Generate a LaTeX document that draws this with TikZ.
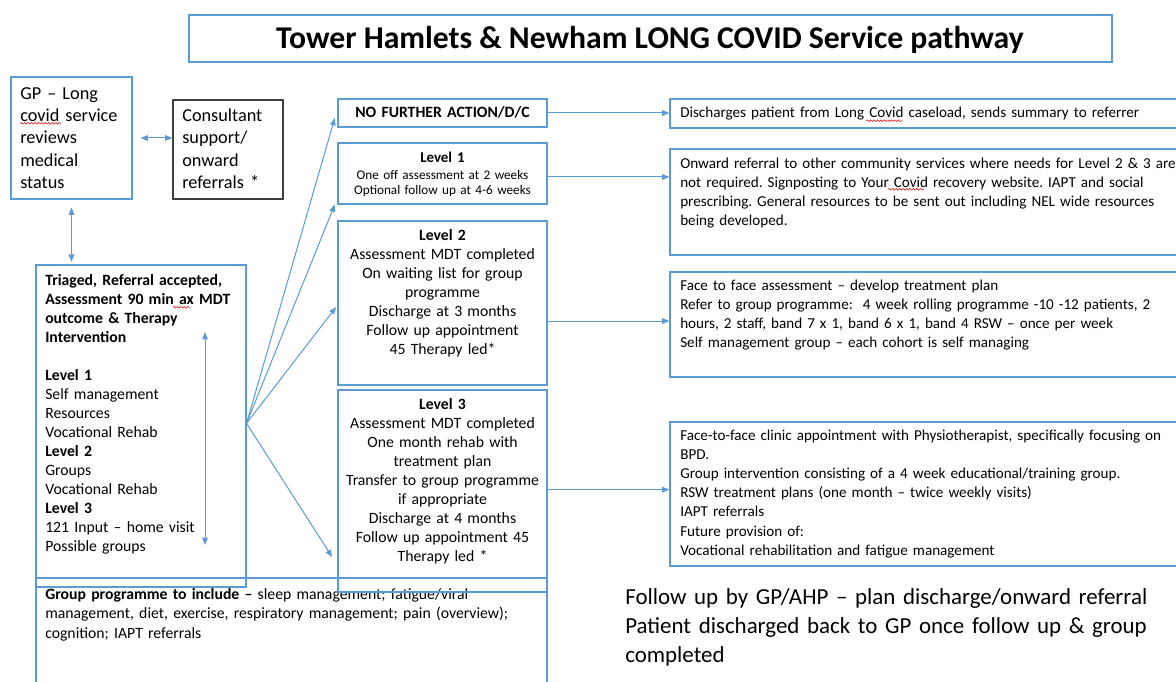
\documentclass[tikz,border=0pt]{standalone}
\usepackage{fontspec}
\setmainfont{Carlito}
\usetikzlibrary{arrows.meta,fit,decorations.pathmorphing}
\definecolor{edge}{RGB}{91,155,213}
\definecolor{darkedge}{RGB}{64,64,64}
\definecolor{squig}{RGB}{220,40,40}
\newcommand\szmain{\fontsize{11.8}{14.3}\selectfont}
\newcommand\szright{\fontsize{11.35}{14.3}\selectfont}
\newcommand\szbig{\fontsize{13.7}{16.7}\selectfont}
\newcommand\szsmall{\fontsize{9.9}{11.25}\selectfont}
\newcommand\szfollow{\fontsize{17.2}{21.75}\selectfont}
\newcommand\sztitle{\fontsize{23.75}{28}\selectfont}
\begin{document}
\frenchspacing
\begin{tikzpicture}[x=0.75pt,y=-0.75pt,
  box/.style={draw=edge,line width=0.8pt,inner sep=0pt},
  darkbox/.style={draw=darkedge,line width=0.8pt,inner sep=0pt},
  txt/.style={inner sep=0pt,align=left,text width=#1,anchor=base west},
  ctr/.style={inner sep=0pt,align=center,text width=#1,anchor=base},
  link/.style={draw=edge,line width=0.75pt,-{Triangle[length=5.5pt,width=4.2pt]}},
  dlink/.style={draw=edge,line width=0.75pt,{Triangle[length=5.5pt,width=4.2pt]}-{Triangle[length=5.5pt,width=4.2pt]}},
  spell/.style={draw=squig,line width=0.5pt,decorate,decoration={snake,amplitude=0.6pt,segment length=2.6pt}}]
\useasboundingbox (0,0) rectangle (1176,681);
\fill[white] (0,0) rectangle (1176,681);
\clip (0,0) rectangle (1176,681);

% title
\node[box,fit={(189,15)(1112,62)}] (ttlbox) {};
\node[anchor=base,inner sep=0pt,font=\sztitle\bfseries] (ttl) at (650,49) {Tower Hamlets \& Newham LONG COVID Service pathway};

% GP and consultant
\node[box,fit={(11,77)(132,199)}] (gp) {};
\node[txt=90pt,font=\szbig] (gpt) at (20,99.3) {GP – Long\\covid service\\reviews\\medical\\status};
\node[darkbox,fit={(173,100)(283,199)}] (cons) {};
\node[txt=80pt,font=\szbig] (const) at (182,121.7) {Consultant\\support/\\onward\\referrals *};

% triage box
\node[box,fit={(36,265)(246,587)}] (tri) {};
\node[txt=155pt,font=\szmain] (trit) at (45,285) {\textbf{Triaged, Referral accepted,}\\\textbf{Assessment 90 min ax MDT}\\\textbf{outcome \& Therapy}\\\textbf{Intervention}\\\strut\\\textbf{Level 1}\\Self management\\Resources\\Vocational Rehab\\\textbf{Level 2}\\Groups\\Vocational Rehab\\\textbf{Level 3}\\121 Input – home visit\\Possible groups};
\coordinate (inA) at (205,332);
\coordinate (inB) at (205,545);

% group programme
\node[box,fit={(36,578)(547,700)}] (grp) {};
\node[txt=385pt,font=\fontsize{11.8}{14.6}\selectfont] (grpt) at (45,599.5) {\textbf{Group programme to include –} sleep management; fatigue/viral\\management, diet, exercise, respiratory management; pain (overview);\\cognition; IAPT referrals};

% outcome levels
\node[box,fit={(338,99)(547,127)}] (nfa) {};
\node[ctr=157pt,font=\szmain\bfseries] (nfat) at (442.5,117.3) {NO FURTHER ACTION/D/C};
\node[box,fit={(338,143)(547,204)}] (lv1) {};
\node[ctr=157pt,font=\fontsize{11.2}{13}\selectfont\bfseries] (lv1h) at (442.5,162.3) {Level 1};
\node[ctr=157pt,font=\szsmall] (lv1t) at (442.5,179.3) {One off assessment at 2 weeks\\Optional follow up at 4-6 weeks};
\node[box,fit={(338,221)(547,385)}] (lv2) {};
\node[ctr=157pt,font=\szmain] (lv2t) at (442.5,240.3) {\textbf{Level 2}\\Assessment MDT completed\\On waiting list for group\\programme\\Discharge at 3 months\\Follow up appointment\\45 Therapy led*};
\node[box,fit={(338,390)(547,592)}] (lv3) {};
\node[ctr=157pt,font=\szmain] (lv3t) at (442.5,409.3) {\textbf{Level 3}\\Assessment MDT completed\\One month rehab with\\treatment plan\\Transfer to group programme\\if appropriate\\Discharge at 4 months\\Follow up appointment 45\\Therapy led *};

% actions
\node[box,fit={(670,99)(1190,128)}] (dis) {};
\node[txt=390pt,font=\szright] (dist) at (680,117.3) {Discharges patient from Long Covid caseload, sends summary to referrer};
\node[box,fit={(670,149)(1190,255)}] (onw) {};
\node[txt=400pt,font=\szright] (onwt) at (680,168.3) {Onward referral to other community services where needs for Level 2 \& 3 are\\not required. Signposting to Your Covid recovery website. IAPT and social\\prescribing. General resources to be sent out including NEL wide resources\\being developed.};
\node[box,fit={(670,272)(1190,377)}] (f2f) {};
\node[txt=400pt,font=\szright] (f2ft) at (680,290.7) {Face to face assessment – develop treatment plan\\Refer to group programme:\ \ 4 week rolling programme -10 -12 patients, 2\\hours, 2 staff, band 7 x 1, band 6 x 1, band 4 RSW – once per week\\Self management group – each cohort is self managing};
\node[box,fit={(670,422)(1190,566)}] (clin) {};
\node[txt=400pt,font=\szright] (clint) at (680,440.7) {Face-to-face clinic appointment with Physiotherapist, specifically focusing on\\BPD.\\Group intervention consisting of a 4 week educational/training group.\\RSW treatment plans (one month – twice weekly visits)\\IAPT referrals\\Future provision of:\\Vocational rehabilitation and fatigue management};

% closing note
\node[txt=430pt,font=\szfollow] (fol) at (625,604) {Follow up by GP/AHP – plan discharge/onward referral\\Patient discharged back to GP once follow up \& group\\completed};

% connectors
\draw[dlink] ([xshift=6pt]gp.east) -- (gp.east -| cons.west);
\draw[dlink] ([yshift=-6pt]gp.south) -- ([yshift=2pt]gp.south |- tri.north);
\draw[dlink] (inA) -- (inB);
\draw[link] ([yshift=2pt]tri.east) -- ([xshift=-2pt,yshift=-3.75pt]nfa.west);
\draw[link] ([yshift=2pt]tri.east) -- ([xshift=-2pt]lv1.south west);
\draw[link] ([yshift=2pt]tri.east) -- ([xshift=-1pt,yshift=-3pt]lv2.west);
\draw[link] ([yshift=2pt]tri.east) -- ([xshift=-4pt,yshift=-49.5pt]lv3.west);
\draw[link] (nfa.east) -- (nfa.east -| dis.west);
\draw[link] ([yshift=-2.6pt]lv1.east) -- ([yshift=-2.6pt]lv1.east -| onw.west);
\draw[link] ([yshift=-13.5pt]lv2.east) -- ([yshift=-13.5pt]lv2.east -| f2f.west);
\draw[link] ([yshift=1pt]lv3.east) -- ([yshift=1pt]lv3.east -| clin.west);

% spell-check underlines
\draw[spell] (20,123.3) -- (61,123.3);
\draw[spell] (173,307.3) -- (190,307.3);
\draw[spell] (866,120.7) -- (902,120.7);
\draw[spell] (888,189.3) -- (924,189.3);
\end{tikzpicture}
\end{document}
